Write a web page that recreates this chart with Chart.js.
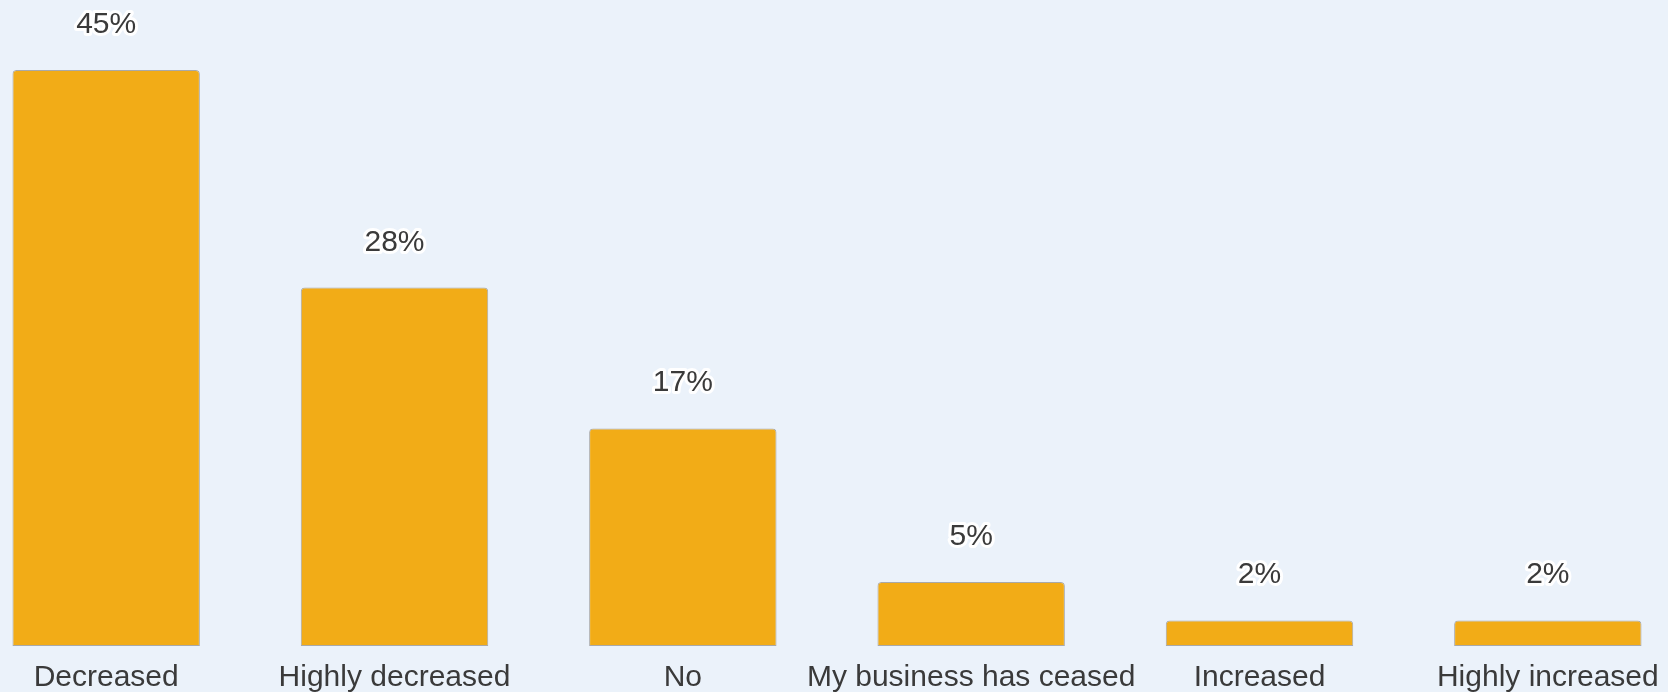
<!DOCTYPE html>
<html>
<head>
<meta charset="utf-8">
<title>Business change</title>
<script src="https://cdn.jsdelivr.net/npm/chart.js@4"></script>
<style>
  html, body { margin: 0; padding: 0; background: #ebf2fa; overflow: hidden; }
  #wrap { position: absolute; left: -38px; top: 0; width: 1730px; height: 692px; }
</style>
</head>
<body>
<div id="wrap"><canvas id="mycanvas"></canvas></div>
<script>
var answers = ['Decreased', 'Highly decreased', 'No', 'My business has ceased', 'Increased', 'Highly increased'];
var percent = [45, 28, 17, 5, 2, 2];

// percentage text above each bar, with a white halo
var valueLabels = {
	id: 'valueLabels',
	afterDatasetsDraw: function(chart){
		var ctx = chart.ctx;
		var meta = chart.getDatasetMeta(0);
		ctx.save();
		ctx.font = '30px "Liberation Sans", Arial, sans-serif';
		ctx.textAlign = 'center';
		ctx.textBaseline = 'alphabetic';
		ctx.lineJoin = 'round';
		ctx.lineWidth = 6;
		ctx.strokeStyle = '#ffffff';
		ctx.fillStyle = '#3a3a3a';
		meta.data.forEach(function(bar, i){
			var txt = percent[i] + '%';
			ctx.strokeText(txt, bar.x, bar.y - 37);
			ctx.fillText(txt, bar.x, bar.y - 37);
		});
		ctx.restore();
	}
};

var ctx = document.getElementById('mycanvas');

var barGraph = new Chart(ctx, {
	type: 'bar',
	data: {
		labels: answers,
		datasets: [{
			data: percent,
			backgroundColor: '#f2ac17',
			borderColor: '#a9a9a9',
			borderWidth: 1,
			borderSkipped: false,
			borderRadius: { topLeft: 4, topRight: 4, bottomLeft: 0, bottomRight: 0 },
			categoryPercentage: 1,
			barPercentage: 0.65
		}]
	},
	options: {
		responsive: true,
		maintainAspectRatio: false,
		animation: false,
		layout: { padding: { top: 6, bottom: -18, left: 0, right: 0 } },
		plugins: {
			legend: { display: false },
			tooltip: { enabled: false }
		},
		scales: {
			x: {
				grid: { display: false, drawTicks: false },
				border: { display: false },
				ticks: {
					padding: 14,
					color: '#3a3a3a',
					maxRotation: 0,
					autoSkip: false,
					font: { family: '"Liberation Sans", Arial, sans-serif', size: 30 }
				}
			},
			y: {
				display: false,
				min: 0,
				max: 50
			}
		}
	},
	plugins: [valueLabels]
});
</script>
</body>
</html>
